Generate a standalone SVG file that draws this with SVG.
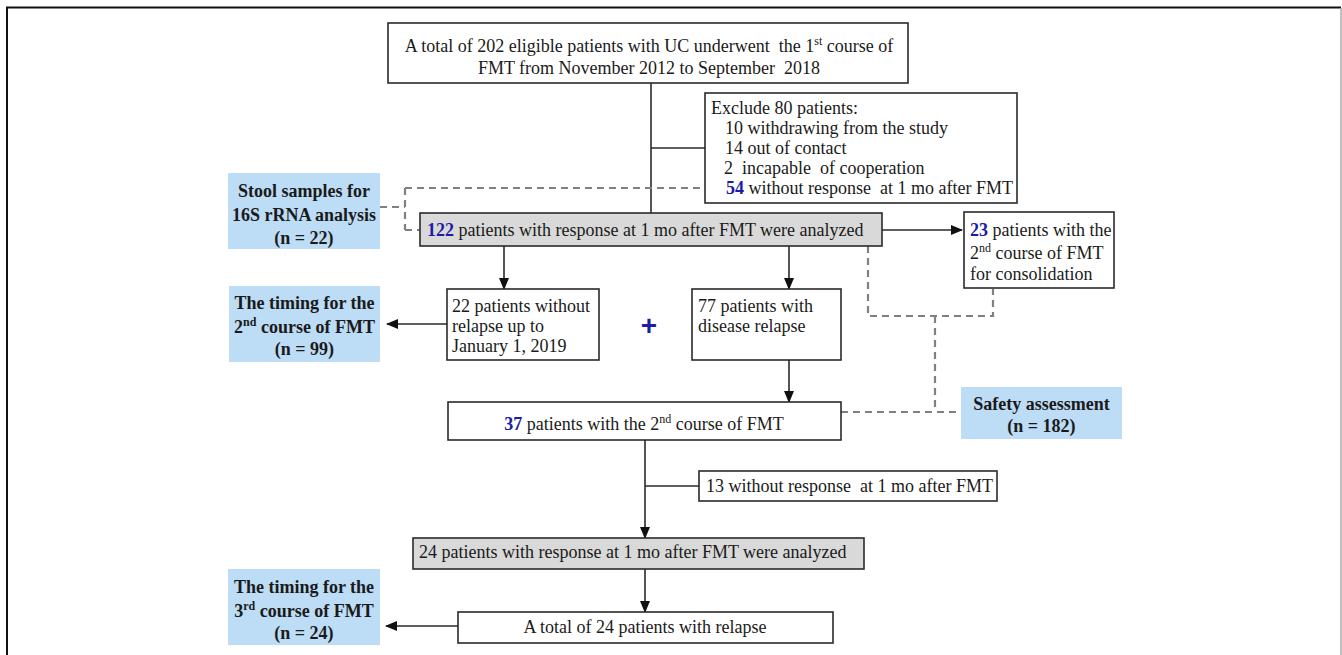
<svg xmlns="http://www.w3.org/2000/svg" width="1342" height="655" viewBox="0 0 1342 655">
<defs>
<style>
.box{fill:#fff;stroke:#2a2a2a;stroke-width:1.6}
.gray{fill:#d9d9d9;stroke:#2a2a2a;stroke-width:1.6}
.blue{fill:#bddcf5;stroke:none}
text{font-family:"Liberation Serif","Times New Roman",serif;font-size:18px;fill:#1a1a1a}
.b{font-weight:bold}
.c{text-anchor:middle}
.num{fill:#1c1ca6;font-weight:bold}
.sup{font-size:12px}
.ln{fill:none;stroke:#2a2a2a;stroke-width:1.6}
.arr{fill:none;stroke:#2a2a2a;stroke-width:1.6;marker-end:url(#ah)}
.dash{fill:none;stroke:#808080;stroke-width:2.2;stroke-dasharray:7 5}
</style>
<marker id="ah" viewBox="0 0 12 10" refX="11" refY="5" markerUnits="userSpaceOnUse" markerWidth="12" markerHeight="10" orient="auto">
<path d="M0,0 L12,5 L0,10 z" fill="#111"/>
</marker>
</defs>

<g id="frame">
<path d="M7,655 V7.5 H1341" fill="none" stroke="#111" stroke-width="2"/>
<line x1="1341" y1="8" x2="1341" y2="655" stroke="#aaa" stroke-width="1.5"/>
</g>

<g id="connectors">
<line class="ln" x1="651" y1="83" x2="651" y2="213"/>
<line class="ln" x1="651" y1="148" x2="705" y2="148"/>
<line class="arr" x1="882" y1="230" x2="962" y2="230"/>
<line class="arr" x1="504" y1="246" x2="504" y2="289"/>
<line class="arr" x1="789" y1="246" x2="789" y2="289"/>
<line class="arr" x1="447" y1="324" x2="387" y2="324"/>
<line class="arr" x1="789" y1="360" x2="789" y2="402"/>
<line class="arr" x1="645" y1="440" x2="645" y2="538"/>
<line class="ln" x1="645" y1="486" x2="699" y2="486"/>
<line class="arr" x1="645" y1="569" x2="645" y2="612"/>
<line class="arr" x1="458" y1="626" x2="386" y2="626"/>
<path class="dash" d="M380,207 H405 M405,188 V230 M405,188 H727 M405,230 H420"/>
<path class="dash" d="M868,246 V316 H993 V289 M935,316 V412 M841,412 H961"/>
</g>

<g id="n-start">
<rect class="box" x="388" y="23" width="520" height="60"/>
<text class="c" x="649" y="52" xml:space="preserve">A total of 202 eligible patients with UC underwent  the 1<tspan class="sup" dy="-7">st</tspan><tspan dy="7"> course of</tspan></text>
<text class="c" x="649" y="74" xml:space="preserve">FMT from November 2012 to September  2018</text>
</g>

<g id="n-exclude">
<rect class="box" x="705" y="93" width="312" height="110"/>
<text x="711" y="114">Exclude 80 patients:</text>
<text x="725" y="134">10 withdrawing from the study</text>
<text x="725" y="154">14 out of contact</text>
<text x="724" y="174" xml:space="preserve">2  incapable  of cooperation</text>
<text x="726" y="194" xml:space="preserve"><tspan class="num">54</tspan> without response  at 1 mo after FMT</text>
</g>

<g id="n-stool">
<rect class="blue" x="228" y="173" width="152" height="76"/>
<text class="b c" x="304" y="197">Stool samples for</text>
<text class="b c" x="304" y="221">16S rRNA analysis</text>
<text class="b c" x="304" y="244">(n = 22)</text>
</g>

<g id="n-122">
<rect class="gray" x="420" y="213" width="462" height="33"/>
<text x="427" y="236"><tspan class="num">122</tspan> patients with response at 1 mo after FMT were analyzed</text>
</g>

<g id="n-23">
<rect class="box" x="964" y="212" width="150" height="76"/>
<text x="970" y="236"><tspan class="num">23</tspan> patients with the</text>
<text x="970" y="259">2<tspan class="sup" dy="-7">nd</tspan><tspan dy="7"> course of FMT</tspan></text>
<text x="970" y="280">for consolidation</text>
</g>

<g id="n-22">
<rect class="box" x="447" y="289" width="152" height="71"/>
<text x="452" y="312">22 patients without</text>
<text x="452" y="332">relapse up to</text>
<text x="452" y="352">January 1, 2019</text>
</g>

<g id="n-plus">
<text x="649" y="335" class="c" style="font-family:'Liberation Sans',Arial,sans-serif;font-size:28px;font-weight:bold;fill:#1c1ca6">+</text>
</g>

<g id="n-77">
<rect class="box" x="692" y="289" width="149" height="71"/>
<text x="698" y="312">77 patients with</text>
<text x="698" y="332">disease relapse</text>
</g>

<g id="n-timing2">
<rect class="blue" x="229" y="286" width="151" height="76"/>
<text class="b c" x="304.5" y="309">The timing for the</text>
<text class="b c" x="304.5" y="333">2<tspan class="sup" dy="-7">nd</tspan><tspan dy="7"> course of FMT</tspan></text>
<text class="b c" x="304.5" y="355">(n = 99)</text>
</g>

<g id="n-37">
<rect class="box" x="448" y="402" width="393" height="38"/>
<text class="c" x="644" y="430"><tspan class="num">37</tspan> patients with the 2<tspan class="sup" dy="-7">nd</tspan><tspan dy="7"> course of FMT</tspan></text>
</g>

<g id="n-safety">
<rect class="blue" x="961" y="387" width="161" height="52"/>
<text class="b c" x="1041.5" y="410">Safety assessment</text>
<text class="b c" x="1041.5" y="432">(n = 182)</text>
</g>

<g id="n-13">
<rect class="box" x="699" y="471" width="298" height="30"/>
<text x="706" y="492" xml:space="preserve">13 without response  at 1 mo after FMT</text>
</g>

<g id="n-24">
<rect class="gray" x="413" y="538" width="451" height="31"/>
<text x="419" y="558">24 patients with response at 1 mo after FMT were analyzed</text>
</g>

<g id="n-total24">
<rect class="box" x="458" y="612" width="375" height="31"/>
<text class="c" x="645" y="633">A total of 24 patients with relapse</text>
</g>

<g id="n-timing3">
<rect class="blue" x="228" y="569" width="152" height="76"/>
<text class="b c" x="304" y="593">The timing for the</text>
<text class="b c" x="304" y="617">3<tspan class="sup" dy="-7">rd</tspan><tspan dy="7"> course of FMT</tspan></text>
<text class="b c" x="304" y="639">(n = 24)</text>
</g>
</svg>
